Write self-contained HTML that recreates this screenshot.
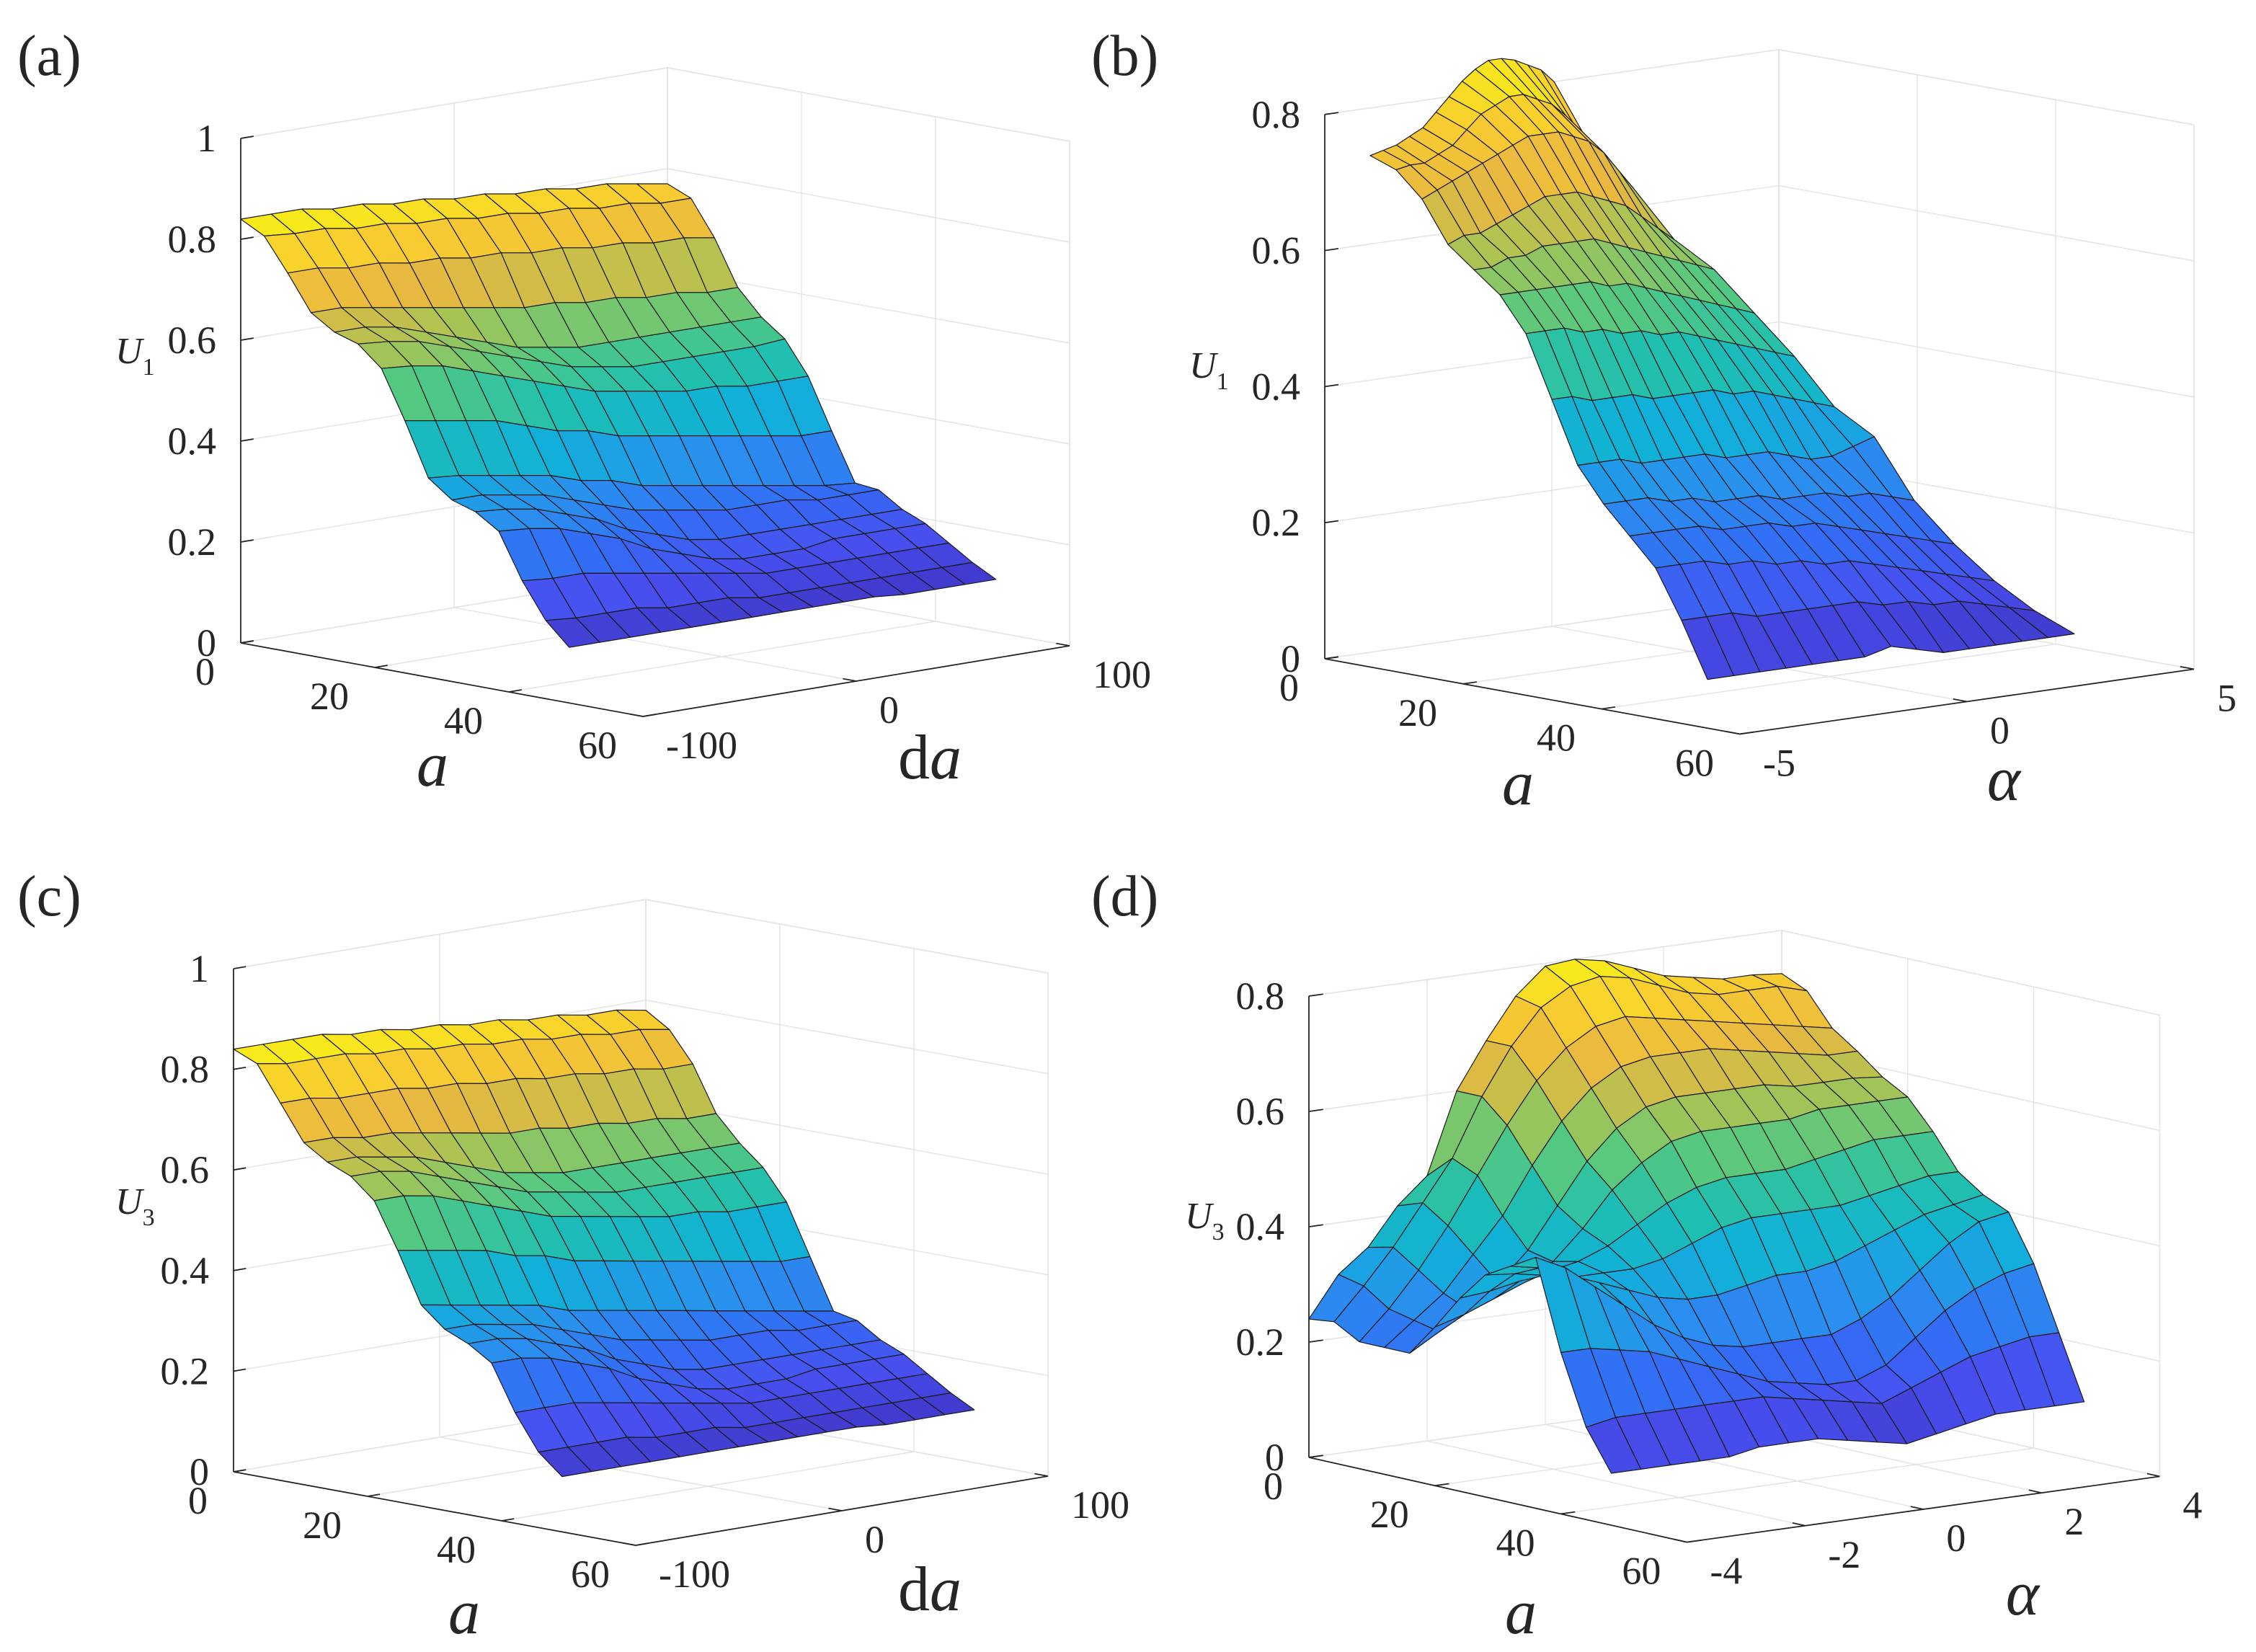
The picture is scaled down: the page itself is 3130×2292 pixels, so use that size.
<!DOCTYPE html>
<html><head><meta charset="utf-8"><style>
html,body{margin:0;padding:0;background:#fff;}
svg{display:block;}
svg, svg text{font-family:"Liberation Serif","Times New Roman","DejaVu Serif",serif;}
text{fill:#262626;}
</style></head><body>
<svg id="fig" width="3130" height="2292" viewBox="0 0 1565 1146" xmlns="http://www.w3.org/2000/svg" font-family="Liberation Serif, Times New Roman, DejaVu Serif, serif">
<g font-size="40">
<text x="12" y="52">(a)</text>
<text x="757" y="52">(b)</text>
<text x="12" y="635">(c)</text>
<text x="757" y="635">(d)</text>
</g>
<g>
<text x="300" y="545" font-size="44" font-style="italic" text-anchor="middle">a</text>
<text x="645" y="540" font-size="44" text-anchor="middle">d<tspan font-style="italic">a</tspan></text>
<text x="80" y="252" font-size="26" font-style="italic">U<tspan font-size="17" font-style="normal" dy="8">1</tspan></text>
<text x="1053" y="558" font-size="44" font-style="italic" text-anchor="middle">a</text>
<text x="1390" y="555" font-size="44" font-style="italic" text-anchor="middle">α</text>
<text x="825" y="262" font-size="26" font-style="italic">U<tspan font-size="17" font-style="normal" dy="8">1</tspan></text>
<text x="322" y="1133" font-size="44" font-style="italic" text-anchor="middle">a</text>
<text x="645" y="1117" font-size="44" text-anchor="middle">d<tspan font-style="italic">a</tspan></text>
<text x="80" y="842" font-size="26" font-style="italic">U<tspan font-size="17" font-style="normal" dy="8">3</tspan></text>
<text x="1055" y="1133" font-size="44" font-style="italic" text-anchor="middle">a</text>
<text x="1403" y="1120" font-size="44" font-style="italic" text-anchor="middle">α</text>
<text x="822" y="852" font-size="26" font-style="italic">U<tspan font-size="17" font-style="normal" dy="8">3</tspan></text>
</g>
</svg>
<script>
// ---------- data ----------
const aRowsA = [0,3.5,7,10.5,14,17.5,21,24.5,28,31.5,35,38.5,42,45.5,49];
const daColsA = [-100,-85.7,-71.4,-57.1,-42.9,-28.6,-14.3,0,14.3,28.6,42.9,57.1,71.4,85.7,100];
const zA = [
[.84,.84,.84,.83,.83,.82,.82,.81,.81,.80,.80,.79,.79,.78,.77],
[.815,.81,.81,.80,.80,.79,.79,.78,.78,.77,.77,.76,.76,.75,.75],
[.75,.75,.74,.74,.73,.73,.72,.72,.71,.71,.70,.70,.69,.69,.68],
[.68,.68,.67,.66,.65,.64,.63,.62,.62,.61,.61,.60,.60,.59,.59],
[.65,.65,.64,.62,.60,.58,.56,.55,.54,.54,.54,.54,.54,.54,.54],
[.635,.63,.62,.60,.58,.56,.54,.52,.51,.50,.50,.50,.50,.50,.505],
[.595,.59,.58,.56,.54,.52,.50,.48,.47,.46,.45,.45,.44,.44,.44],
[.50,.49,.48,.47,.45,.43,.42,.40,.39,.38,.37,.36,.35,.34,.34],
[.395,.39,.38,.37,.36,.34,.33,.31,.30,.29,.28,.27,.26,.25,.245],
[.36,.36,.35,.34,.32,.30,.28,.27,.26,.25,.25,.25,.24,.24,.24],
[.345,.34,.33,.31,.29,.26,.24,.22,.21,.21,.21,.21,.21,.21,.21],
[.315,.31,.30,.28,.26,.23,.21,.19,.18,.18,.18,.19,.19,.19,.19],
[.225,.22,.22,.21,.20,.19,.18,.17,.16,.16,.16,.16,.16,.16,.16],
[.155,.15,.15,.15,.14,.14,.14,.13,.13,.13,.13,.13,.13,.13,.13],
[.11,.11,.11,.11,.11,.11,.11,.11,.11,.11,.11,.105,.105,.105,.105]];

const aRowsB = [0,3.75,7.5,11.25,15,18.75,22.5,26.25,30,33.75,37.5,41.25,45,48.75];
const alphaMaxB = [0.05,0.36,0.67,0.98,1.29,1.60,1.91,2.22,2.53,2.84,3.15,3.46,3.77,4.08];
const alphaMinB = -4;
const zB = [
[.73,.735,.74,.75,.76,.78,.80,.82,.835,.845,.845,.84,.83,.82,.80],
[.716,.72,.72,.73,.74,.76,.78,.79,.80,.80,.79,.78,.76,.73,.70],
[.68,.69,.70,.71,.72,.73,.74,.75,.75,.75,.74,.73,.71,.68,.65],
[.62,.63,.63,.64,.65,.66,.67,.67,.67,.66,.65,.64,.62,.60,.58],
[.59,.59,.60,.60,.61,.61,.61,.61,.60,.59,.58,.57,.56,.55,.54],
[.56,.56,.56,.56,.56,.56,.55,.55,.54,.53,.52,.51,.50,.49,.48],
[.51,.51,.51,.50,.50,.49,.49,.48,.48,.47,.46,.45,.44,.43,.42],
[.42,.42,.41,.41,.41,.40,.40,.40,.40,.39,.39,.38,.37,.36,.35],
[.33,.33,.33,.32,.32,.32,.32,.31,.31,.31,.30,.29,.29,.30,.31],
[.28,.28,.28,.27,.27,.26,.26,.26,.25,.25,.25,.24,.24,.23,.22],
[.24,.24,.24,.24,.23,.23,.23,.22,.22,.21,.20,.19,.18,.17,.16],
[.20,.20,.20,.19,.19,.18,.18,.17,.17,.16,.15,.14,.13,.12,.11],
[.13,.13,.13,.12,.12,.12,.12,.12,.11,.11,.10,.10,.09,.08,.07],
[.05,.05,.05,.05,.05,.05,.05,.06,.05,.04,.04,.04,.04,.04,.04]];

const aRowsC = [0,3.5,7,10.5,14,17.5,21,24.5,28,31.5,35,38.5,42,45.5,49];
const daColsC = [-100,-85.7,-71.4,-57.1,-42.9,-28.6,-14.3,0,14.3,28.6,42.9,57.1,71.4,85.7,100];
const zC = [
[.84,.84,.84,.84,.83,.83,.82,.82,.81,.81,.80,.80,.79,.79,.78],
[.82,.81,.81,.81,.80,.80,.79,.79,.78,.78,.77,.77,.76,.76,.75],
[.75,.75,.74,.74,.74,.73,.73,.72,.72,.71,.71,.70,.70,.69,.69],
[.68,.68,.67,.67,.66,.65,.64,.63,.63,.62,.62,.61,.61,.60,.60],
[.65,.65,.64,.63,.61,.59,.57,.56,.55,.55,.55,.55,.55,.55,.55],
[.63,.63,.62,.60,.58,.56,.54,.53,.52,.51,.51,.51,.51,.51,.51],
[.59,.59,.58,.56,.54,.52,.50,.49,.48,.47,.46,.46,.45,.45,.45],
[.50,.49,.48,.47,.45,.44,.42,.41,.40,.39,.38,.37,.36,.35,.35],
[.40,.39,.38,.37,.36,.34,.33,.32,.31,.30,.29,.28,.27,.26,.25],
[.36,.36,.35,.34,.32,.30,.28,.27,.26,.25,.25,.25,.24,.24,.24],
[.34,.34,.33,.31,.29,.26,.24,.22,.21,.21,.21,.21,.21,.21,.21],
[.31,.31,.30,.28,.26,.23,.21,.19,.18,.18,.18,.19,.19,.19,.19],
[.22,.22,.22,.21,.20,.19,.18,.17,.16,.16,.16,.16,.16,.16,.16],
[.15,.15,.15,.15,.14,.14,.14,.13,.13,.13,.13,.13,.13,.13,.13],
[.11,.11,.11,.11,.11,.11,.11,.11,.11,.11,.11,.105,.105,.105,.105]];

const aRowsD = [0,4,8,12,16,20,24,28,32,36,40,44,48];
const alphaColsD = [-4,-3.5,-3,-2.5,-2,-1.5,-1,-0.5,0,0.5,1,1.5,2,2.5,3,3.5,4];
const zD = [
[.24,.31,.35,.415,.46,.60,.68,.75,.795,.80,.79,.77,.75,.74,.73,.73,.725],
[.245,.30,.36,.43,.50,.60,.68,.74,.77,.78,.77,.75,.73,.72,.72,.72,.705],
[.22,.27,.33,.40,.48,.56,.63,.68,.71,.72,.71,.70,.69,.68,.67,.66,.65],
[.22,.26,.30,.36,.42,.50,.57,.62,.65,.66,.66,.66,.65,.64,.63,.62,.62],
[.22,.25,.28,.32,.37,.44,.51,.56,.59,.60,.60,.60,.60,.59,.59,.59,.585],
[.275,.29,.31,.33,.36,.41,.47,.51,.54,.55,.55,.55,.55,.56,.56,.56,.56],
[.335,.34,.35,.36,.37,.39,.42,.45,.47,.48,.48,.48,.49,.50,.51,.51,.51],
[.385,.38,.37,.36,.36,.36,.37,.39,.41,.42,.42,.42,.42,.43,.44,.45,.45],
[.41,.40,.38,.36,.34,.32,.31,.31,.32,.33,.33,.34,.36,.38,.40,.41,.42],
[.435,.41,.37,.33,.29,.26,.24,.23,.23,.23,.23,.25,.28,.32,.36,.39,.40],
[.28,.28,.27,.26,.24,.22,.20,.18,.17,.16,.16,.18,.22,.26,.29,.31,.32],
[.16,.17,.17,.17,.17,.17,.17,.16,.15,.14,.13,.15,.17,.19,.20,.21,.21],
[.09,.09,.09,.09,.09,.10,.10,.10,.09,.08,.07,.08,.09,.10,.10,.10,.10]];

const zTicksA = [0,0.2,0.4,0.6,0.8,1];
const zTicksB = [0,0.2,0.4,0.6,0.8];
const aTicks = [0,20,40,60];
const daTicks = [-100,0,100];
const alphaTicksB = [-5,0,5];
const alphaTicksD = [-4,-2,0,2,4];

// ---------- rendering ----------
const NS = "http://www.w3.org/2000/svg";
const svg = document.getElementById('fig');
const cstops = [[64,56,200],[72,80,240],[50,110,245],[42,144,238],[16,176,216],[32,191,176],[85,200,128],[168,196,85],[232,184,64],[248,204,48],[248,240,24]];
function cmap(t){
  t = Math.max(0, Math.min(1, t)) * (cstops.length - 1);
  const i = Math.min(Math.floor(t), cstops.length - 2), f = t - i;
  const c = cstops[i].map((v, k) => Math.round(v + (cstops[i + 1][k] - v) * f));
  return 'rgb(' + c.join(',') + ')';
}
function fmt(v){ return (Math.abs(v) < 1e-9) ? '0' : (Math.abs(v - Math.round(v)) < 1e-9 ? String(Math.round(v)) : v.toFixed(1)); }
function mk(tag, attrs, parent){
  const e = document.createElementNS(NS, tag);
  for (const k in attrs) e.setAttribute(k, attrs[k]);
  parent.appendChild(e);
  return e;
}

function drawPanel(p, rows, colsFn, Z, zTicks, dTicks, key){
  const P = (a, d, z) => [p.ox + (a - p.a0) * p.ax + (d - p.d0) * p.dx, p.oy + (a - p.a0) * p.ay + (d - p.d0) * p.dy - z * p.zs];
  const g = mk('g', {}, svg);
  
  
  const grid = mk('g', {stroke: '#e3e3e3', 'stroke-width': 0.7, fill: 'none'}, g);
  
  
  const line = (q1, q2, parent) => mk('line', {x1: q1[0], y1: q1[1], x2: q2[0], y2: q2[1]}, parent);
  zTicks.forEach(z => { line(P(p.a0, p.d0, z), P(p.a0, p.d1, z), grid); line(P(p.a0, p.d1, z), P(p.a1, p.d1, z), grid); });
  dTicks.forEach(d => { line(P(p.a0, d, 0), P(p.a0, d, p.zmax), grid); line(P(p.a0, d, 0), P(p.a1, d, 0), grid); });
  aTicks.forEach(a => { line(P(a, p.d1, 0), P(a, p.d1, p.zmax), grid); line(P(a, p.d0, 0), P(a, p.d1, 0), grid); });
  line(P(p.a0, p.d1, 0), P(p.a0, p.d1, p.zmax), grid);
  line(P(p.a1, p.d1, 0), P(p.a1, p.d1, p.zmax), grid);
  line(P(p.a0, p.d0, p.zmax), P(p.a0, p.d1, p.zmax), grid);
  line(P(p.a0, p.d1, p.zmax), P(p.a1, p.d1, p.zmax), grid);

  let zmin = Infinity, zmaxD = -Infinity;
  Z.forEach(r => r.forEach(v => { zmin = Math.min(zmin, v); zmaxD = Math.max(zmaxD, v); }));
  const faces = [];
  for (let i = 0; i < rows.length - 1; i++){
    for (let j = 0; j < Z[i].length - 1; j++){
      const c = [[i, j], [i, j + 1], [i + 1, j + 1], [i + 1, j]];
      const pts = c.map(([ii, jj]) => P(rows[ii], colsFn(ii, jj), Z[ii][jj]));
      const am = (rows[i] + rows[i + 1]) / 2, dm = (colsFn(i, j) + colsFn(i, j + 1) + colsFn(i + 1, j) + colsFn(i + 1, j + 1)) / 4;
      const depth = am * p.ay + dm * p.dy;
      const zv = (Z[i][j] + Z[i][j + 1] + Z[i + 1][j] + Z[i + 1][j + 1]) / 4;
      faces.push({pts, depth, zv});
    }
  }
  faces.sort((x, y) => x.depth - y.depth);
  const surf = mk('g', {stroke: '#1a1a1a', 'stroke-width': 0.6, 'stroke-linejoin': 'round'}, g);
  
  
  faces.forEach(f => {
    const poly = mk('polygon', {points: f.pts.map(q => q[0].toFixed(1) + ',' + q[1].toFixed(1)).join(' '), fill: cmap((f.zv - zmin) / (zmaxD - zmin))}, surf);
    
    
  });

  const ax = mk('g', {stroke: '#262626', 'stroke-width': 0.9}, g);
  
  
  line(P(p.a0, p.d0, 0), P(p.a0, p.d0, p.zmax), ax);
  line(P(p.a0, p.d0, 0), P(p.a1, p.d0, 0), ax);
  line(P(p.a1, p.d0, 0), P(p.a1, p.d1, 0), ax);
  const dd = (p.d1 - p.d0) * 0.03;
  const labels = mk('g', {'font-size': 27}, g);
  
  
  zTicks.forEach(z => {
    line(P(p.a0, p.d0, z), P(p.a0, p.d0 + dd, z), ax);
    const q = P(p.a0, p.d0, z);
    const t = mk('text', {x: q[0] - 17, y: q[1] + 9, 'text-anchor': 'end'}, labels);
    
    
    t.textContent = fmt(z);
  });
  aTicks.forEach(a => {
    line(P(a, p.d0, 0), P(a, p.d0 + dd, 0), ax);
    const q = P(a, p.d0, 0);
    const t = mk('text', {x: q[0] - 18, y: q[1] + 29, 'text-anchor': 'end'}, labels);
    
    
    t.textContent = fmt(a);
  });
  dTicks.forEach(d => {
    line(P(p.a1, d, 0), P(p.a1 - 2, d, 0), ax);
    const q = P(p.a1, d, 0);
    const t = mk('text', {x: q[0] + 16, y: q[1] + 29, 'text-anchor': 'start'}, labels);
    
    
    t.textContent = fmt(d);
  });
}

drawPanel({ox: 167, oy: 446, a0: 0, a1: 60, ax: 4.65, ay: 0.85, d0: -100, d1: 100, dx: 1.48, dy: -0.245, zs: 350, zmax: 1},
  aRowsA, (i, j) => daColsA[j], zA, zTicksA, daTicks, 'a');
drawPanel({ox: 919, oy: 457, a0: 0, a1: 60, ax: 4.8, ay: 0.87, d0: -5, d1: 5, dx: 31.5, dy: -4.5, zs: 472, zmax: 0.8},
  aRowsB, (i, j) => alphaMinB + (alphaMaxB[i] - alphaMinB) * j / (zB[i].length - 1), zB, zTicksB, alphaTicksB, 'b');
drawPanel({ox: 162, oy: 1021, a0: 0, a1: 60, ax: 4.65, ay: 0.85, d0: -100, d1: 100, dx: 1.43, dy: -0.24, zs: 349, zmax: 1},
  aRowsC, (i, j) => daColsC[j], zC, zTicksA, daTicks, 'c');
drawPanel({ox: 908, oy: 1011, a0: 0, a1: 60, ax: 4.37, ay: 0.98, d0: -4, d1: 4, dx: 41, dy: -5.7, zs: 400, zmax: 0.8},
  aRowsD, (i, j) => alphaColsD[j], zD, zTicksB, alphaTicksD, 'd');
</script>
</body></html>
